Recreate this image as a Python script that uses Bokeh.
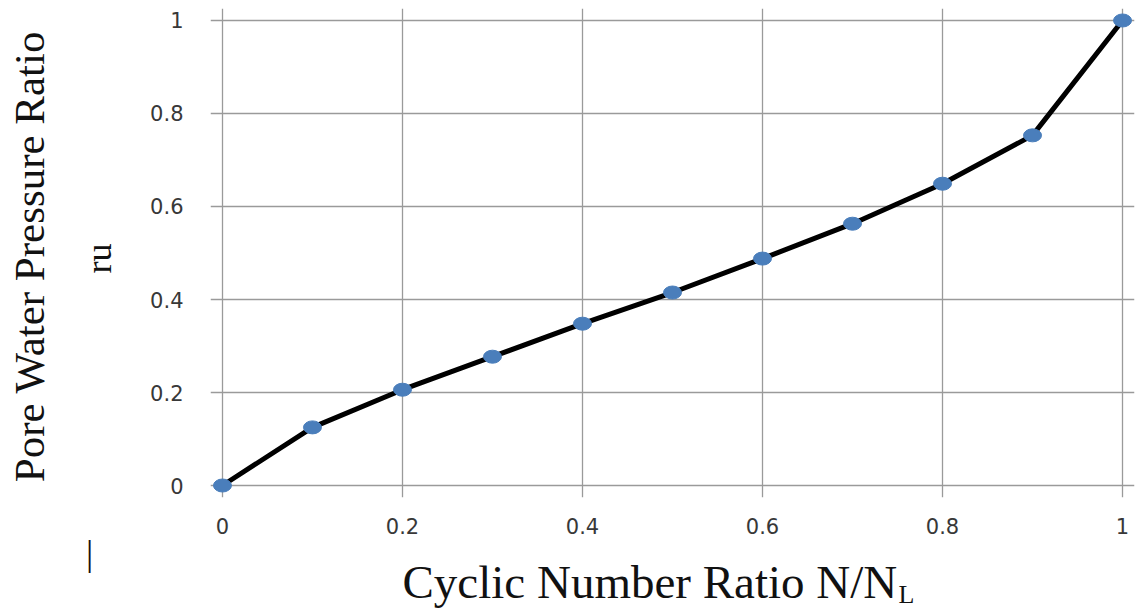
import math
from bokeh.plotting import figure
from bokeh.models import Range1d, FixedTicker
from bokeh.layouts import row, column
from bokeh.core.properties import value
from bokeh.embed import file_html
from bokeh.resources import INLINE

# Data
cycle_ratio = [0.0, 0.1, 0.2, 0.3, 0.4, 0.5, 0.6, 0.7, 0.8, 0.9, 1.0]
pore_ratio = [0.0, 0.125, 0.206, 0.277, 0.348, 0.415, 0.488, 0.563, 0.649, 0.753, 1.0]
tick_values = [0.0, 0.2, 0.4, 0.6, 0.8, 1.0]
tick_labels = ["0", "0.2", "0.4", "0.6", "0.8", "1"]

x_title = "Cyclic Number Ratio N/N"
x_title_sub = "L"
y_title = "Pore Water Pressure Ratio"
y_title2 = "ru"

SERIF = "Liberation Serif"
SANS = "DejaVu Sans"
TEXT_COLOR = "#111111"

W, H = 1135, 608
LEFT_W = 120
MAIN_W = W - LEFT_W
MAIN_H = 540
BOTTOM_H = H - MAIN_H
FRAME_LEFT, FRAME_RIGHT = 210, 1134   # window pixels of the plot frame
FRAME_TOP, FRAME_BOTTOM = 8, 497


def blank_fig(w, h, xr, yr, left=0, right=0):
    f = figure(width=w, height=h, output_backend="svg", toolbar_location=None,
               x_range=xr, y_range=yr, x_axis_type=None, y_axis_type=None,
               min_border=0, min_border_left=left, min_border_right=right,
               min_border_top=0, min_border_bottom=0)
    f.outline_line_color = None
    f.grid.visible = False
    f.background_fill_color = "white"
    f.border_fill_color = "white"
    return f


# Main chart
p = figure(width=MAIN_W, height=MAIN_H, output_backend="svg", toolbar_location=None,
           x_range=Range1d(-0.0133, 1.0133), y_range=Range1d(-0.0258, 1.0258),
           min_border_left=FRAME_LEFT - LEFT_W, min_border_right=W - FRAME_RIGHT,
           min_border_top=FRAME_TOP, min_border_bottom=MAIN_H - FRAME_BOTTOM)
p.outline_line_color = None
p.background_fill_color = "white"
p.border_fill_color = "white"

overrides = {v: l for v, l in zip(tick_values, tick_labels)}
for ax in (p.xaxis[0], p.yaxis[0]):
    ax.ticker = FixedTicker(ticks=tick_values)
    ax.major_label_overrides = overrides
    ax.axis_line_color = None
    ax.major_tick_line_color = None
    ax.minor_tick_line_color = None
    ax.major_label_text_font = SANS
    ax.major_label_text_font_size = "21px"
    ax.major_label_text_color = "#383838"
p.xaxis.major_label_standoff = 14
p.yaxis.major_label_standoff = 21

for g in (p.xgrid[0], p.ygrid[0]):
    g.ticker = FixedTicker(ticks=tick_values)
    g.bounds = (0, 1)
    g.grid_line_color = "#9a9a9a"
    g.grid_line_width = 1.3

p.line(cycle_ratio, pore_ratio, line_color="black", line_width=5)
p.ellipse(cycle_ratio, pore_ratio, width=18, height=13,
          width_units="screen", height_units="screen",
          fill_color="#4a7ebb", line_color="#4a7ebb")

# Left strip, full window height; y data = window pixels measured from the bottom
left = blank_fig(LEFT_W, H, Range1d(0, LEFT_W), Range1d(0, H))
left.text(x=[29], y=[H - 256], text=[y_title], angle=math.pi / 2,
          text_font=value(SERIF), text_font_size="43px", text_color=TEXT_COLOR,
          text_align="center", text_baseline="middle")
left.text(x=[98], y=[H - 258], text=[y_title2], angle=math.pi / 2,
          text_font=value(SERIF), text_font_size="36px", text_color=TEXT_COLOR,
          text_align="center", text_baseline="middle")
left.text(x=[89], y=[H - 552], text=["|"],
          text_font=value(SERIF), text_font_size="36px", text_color=TEXT_COLOR,
          text_align="center", text_baseline="middle")

# Bottom strip under the chart; its frame lines up with the chart frame
bottom = blank_fig(MAIN_W, BOTTOM_H, Range1d(FRAME_LEFT, FRAME_RIGHT), Range1d(0, BOTTOM_H),
                   left=FRAME_LEFT - LEFT_W, right=W - FRAME_RIGHT)
bottom.text(x=[402], y=[H - 581], text=[x_title],
            text_font=value(SERIF), text_font_size="47px", text_color=TEXT_COLOR,
            text_align="left", text_baseline="middle")
bottom.text(x=[898], y=[H - 594], text=[x_title_sub],
            text_font=value(SERIF), text_font_size="26px", text_color=TEXT_COLOR,
            text_align="left", text_baseline="middle")

layout = row(left, column(p, bottom, spacing=0), spacing=0)

open("out.html", "w").write(file_html(layout, INLINE))
